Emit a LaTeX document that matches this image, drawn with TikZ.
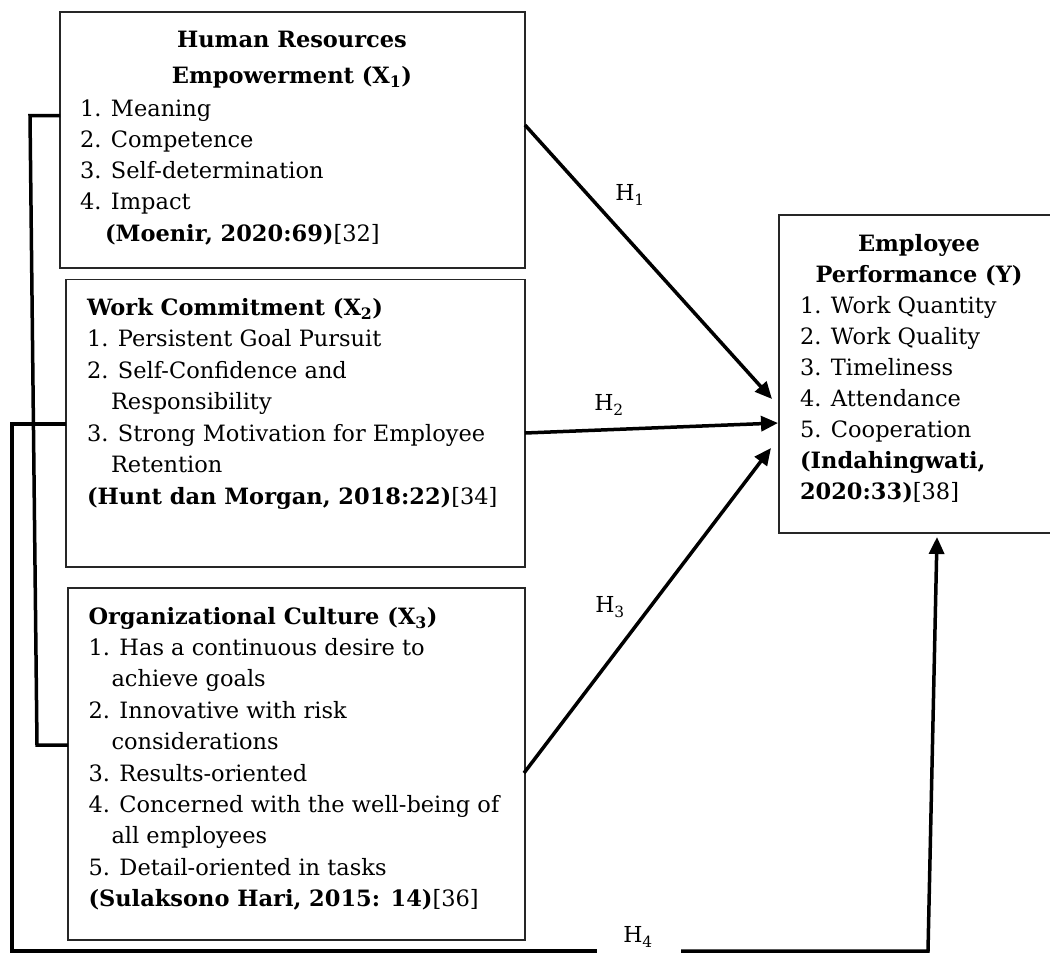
\documentclass[tikz,border=0pt]{standalone}
\usepackage{fontspec}
\setmainfont{DejaVu Serif}
\usetikzlibrary{arrows.meta}
\begin{document}
\begin{tikzpicture}[x=1pt,y=-1pt,
  box/.style={draw=black!85, line width=1.3pt, inner sep=0pt, outer sep=0pt},
  txt/.style={inner sep=0pt, outer sep=0pt, anchor=base west},
  ttl/.style={inner sep=0pt, outer sep=0pt, anchor=base},
  conn/.style={line width=3.5pt, line cap=butt},
  arr/.style={conn, -{Triangle[length=17pt,width=15pt]}},
  hlab/.style={inner sep=0pt, font=\fontsize{22}{26}\selectfont}]
\useasboundingbox (0,0) rectangle (1050,956);
\fill[white] (0,0) rectangle (1050,956);
% boxes
\node[box, minimum width=465pt, minimum height=256pt] (X1) at (292.5,140) {};
\node[box, minimum width=459pt, minimum height=287.5pt] (X2) at (295.5,423.25) {};
\node[box, minimum width=457pt, minimum height=352pt] (X3) at (296.5,764) {};
\node[box, minimum width=290pt, minimum height=318pt] (Y) at (924,374) {};
% texts
\node[ttl] (t1) at (292,47) {\fontsize{22.5}{36}\selectfont\begin{tabular}[t]{@{}c@{}}\textbf{Human Resources}\\ \textbf{Empowerment (X\textsubscript{1})}\end{tabular}};
\node[txt] (i1) at (80,116) {\fontsize{22.5}{31.3}\selectfont\begin{tabular}[t]{@{}l@{}}1. Meaning\\ 2. Competence\\ 3. Self-determination\\ 4. Impact\\ \hspace*{25pt}\textbf{(Moenir, 2020:69)}[32]\end{tabular}};
\node[txt] (i2) at (87,315) {\fontsize{22.5}{31.5}\selectfont\begin{tabular}[t]{@{}l@{}}\textbf{Work Commitment (X\textsubscript{2})}\\ 1. Persistent Goal Pursuit\\ 2. Self-Confidence and\\ \hspace*{24pt}Responsibility\\ 3. Strong Motivation for Employee\\ \hspace*{24pt}Retention\\ \textbf{(Hunt dan Morgan, 2018:22)}[34]\end{tabular}};
\node[txt] (i3) at (88.5,624) {\fontsize{22.5}{31.4}\selectfont\begin{tabular}[t]{@{}l@{}}\textbf{Organizational Culture (X\textsubscript{3})}\\ 1. Has a continuous desire to\\ \hspace*{23pt}achieve goals\\ 2. Innovative with risk\\ \hspace*{23pt}considerations\\ 3. Results-oriented\\ 4. Concerned with the well-being of\\ \hspace*{23pt}all employees\\ 5. Detail-oriented in tasks\\ \textbf{(Sulaksono Hari, 2015: 14)}[36]\end{tabular}};
\node[ttl] (ty) at (919,251) {\fontsize{22.5}{31}\selectfont\begin{tabular}[t]{@{}c@{}}\textbf{Employee}\\ \textbf{Performance (Y)}\end{tabular}};
\node[txt] (iy) at (800,313) {\fontsize{22.5}{31.1}\selectfont\begin{tabular}[t]{@{}l@{}}1. Work Quantity\\ 2. Work Quality\\ 3. Timeliness\\ 4. Attendance\\ 5. Cooperation\\ \textbf{(Indahingwati,}\\ \textbf{2020:33)}[38]\end{tabular}};
% labels
\node[hlab] (h1) at (630,195) {H\textsubscript{1}};
\node[hlab] (h2) at (609,405) {H\textsubscript{2}};
\node[hlab] (h3) at (610,607) {H\textsubscript{3}};
\node[hlab] (h4) at (638,937) {H\textsubscript{4}};
% connector coordinates
\coordinate (b1a) at (30,115.5);
\coordinate (b1b) at (37,745);
\coordinate (b2a) at (12,424);
\coordinate (b2b) at (12,951);
\coordinate (g1) at (597,951);
\coordinate (g2) at (681,951);
\coordinate (c4) at (928,951);
\coordinate (y4) at (937,537);
\coordinate (s1) at (525,125);
\coordinate (e1) at (772,399);
\coordinate (s2) at (525,433);
\coordinate (e2) at (778,423);
\coordinate (s3) at (524,773);
\coordinate (e3) at (771,448);
% brackets
\draw[conn] (X1.west |- b1a) -- (b1a) -- (b1b) -- (X3.west |- b1b);
\draw[conn] (X2.west |- b2a) -- (b2a) -- (b2b) -- (g1);
\draw[arr] (g2) -- (c4) -- (y4);
% hypotheses
\draw[arr] (s1) -- (e1);
\draw[arr] (s2) -- (e2);
\draw[arr] (s3) -- (e3);
\end{tikzpicture}
\end{document}
